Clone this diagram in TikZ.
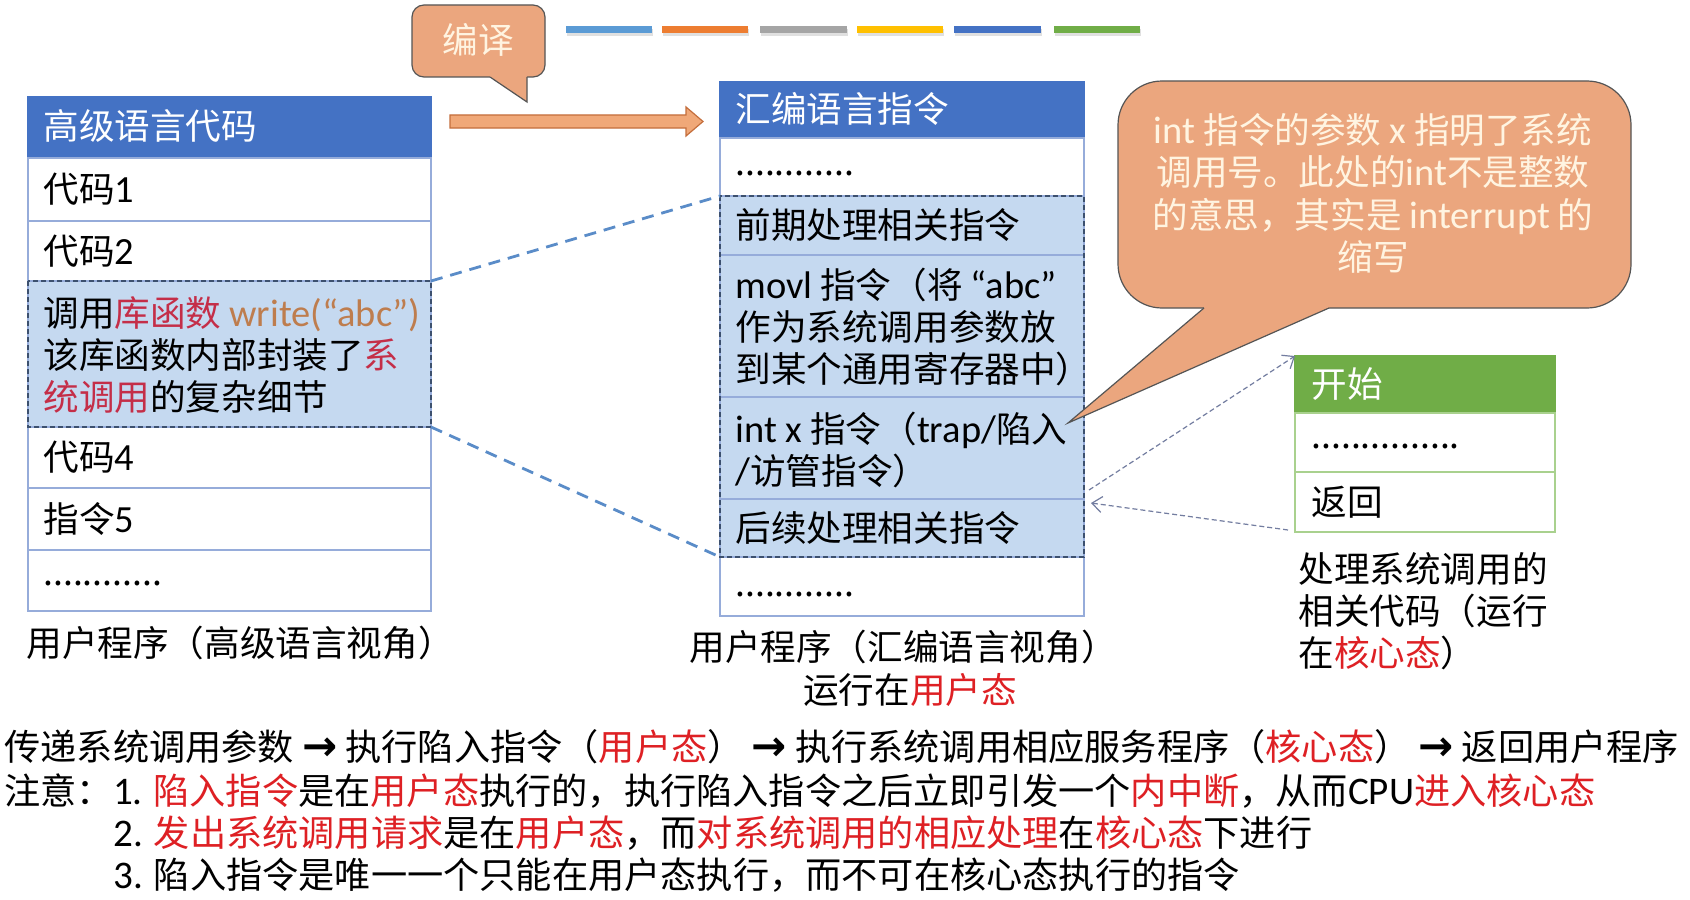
\documentclass[tikz,border=0pt]{standalone}
\usepackage{fontspec}
\setmainfont{Noto Sans CJK SC}
\newfontfamily\arrowfont{DejaVu Sans}
\newfontfamily\lat{Carlito}[Scale=1.08]
\usetikzlibrary{arrows.meta}
\definecolor{hdrblue}{RGB}{68,114,196}
\definecolor{tblline}{RGB}{150,172,218}
\definecolor{hlfill}{RGB}{197,217,240}
\definecolor{hlborderc}{RGB}{60,80,110}
\definecolor{linkblue}{RGB}{90,140,200}
\definecolor{calloutfill}{RGB}{235,166,126}
\definecolor{calloutdraw}{RGB}{85,85,85}
\definecolor{callouttext}{RGB}{255,244,225}
\definecolor{arrowfill}{RGB}{240,168,120}
\definecolor{arrowdraw}{RGB}{196,110,60}
\definecolor{grnhdr}{RGB}{112,173,71}
\definecolor{grnline}{RGB}{169,209,142}
\definecolor{dotarrow}{RGB}{115,125,160}
\definecolor{libred}{RGB}{196,46,72}
\definecolor{fnbrown}{RGB}{190,125,78}
\definecolor{hotred}{RGB}{222,32,36}
\definecolor{barA}{RGB}{91,155,213}
\definecolor{barB}{RGB}{237,125,49}
\definecolor{barC}{RGB}{165,165,165}
\definecolor{barD}{RGB}{255,192,0}
\definecolor{barE}{RGB}{68,114,196}
\definecolor{barF}{RGB}{112,173,71}
\newcommand\mlinesl[1]{\vtop{\baselineskip=21pt\lineskiplimit=-20pt\lineskip=0pt\halign{##\hfil\cr#1\crcr}}}
\newcommand\mlinesc[1]{\vtop{\baselineskip=21.3pt\lineskiplimit=-20pt\lineskip=0pt\halign{\hfil##\hfil\cr#1\crcr}}}
\newcommand\arr{{\arrowfont\bfseries\fontsize{21pt}{21pt}\selectfont →}}
\begin{document}
\begin{tikzpicture}[x=0.5pt,y=-0.5pt,
  cellbox/.style={draw=tblline, line width=0.75pt, inner sep=0pt, outer sep=0pt, fill=white},
  hdrbox/.style={cellbox, fill=hdrblue, draw=hdrblue},
  lbl/.style={anchor=base west, inner sep=0pt, font=\fontsize{17.8pt}{21pt}\selectfont},
  hdrlbl/.style={lbl, text=white},
  btxt/.style={anchor=base west, inner sep=0pt, font=\fontsize{18.1pt}{21pt}\selectfont},
  hlline/.style={draw=hlborderc, line width=0.9pt, dash pattern=on 2.5pt off 1.5pt},
  link/.style={draw=linkblue, line width=1.4pt, dash pattern=on 6pt off 4pt},
  dotarr/.style={draw=dotarrow, line width=0.6pt, dash pattern=on 2.5pt off 1.5pt, -{Straight Barb[length=5pt,width=8pt]}},
  bubble/.style={fill=calloutfill, draw=calloutdraw, line width=0.6pt},
  bubbleline/.style={draw=calloutdraw, line width=0.6pt}]
\useasboundingbox (0,0) rectangle (1690,899);
\fill[white] (0,0) rectangle (1690,899);

% colour bars
\foreach \a/\b/\c in {566/652/barA, 662/748/barB, 760/847/barC, 857/943/barD, 954/1041/barE, 1054/1140/barF}{
  \fill[black!12] (\a+1,29) rectangle (\b+1,36);
  \fill[\c] (\a,26) rectangle (\b,33);
}

% "编译" callout
\path[bubble, rounded corners=6pt] (412,5) rectangle (545,77);
\fill[calloutfill] (490,77) -- (527,102) -- (527,73) -- (490,73) -- cycle;
\draw[bubbleline] (490,77) -- (527,102) -- (527,77);
\node[anchor=base, inner sep=0pt, text=callouttext, font=\fontsize{17.8pt}{21pt}\selectfont] (tbianyi) at (478,54) {编译};

% orange block arrow
\path[fill=arrowfill, draw=arrowdraw, line width=0.6pt] (450,115) -- (686,115) -- (686,107) -- (703,121.5) -- (686,136) -- (686,128) -- (450,128) -- cycle;

% left table
\node[hdrbox, minimum width=201.5pt, minimum height=30.5pt] (lhdr) at (229.5,127.5) {};
\node[cellbox, minimum width=201.5pt, minimum height=31.5pt] (lr1) at (229.5,189.5) {};
\node[cellbox, minimum width=201.5pt, minimum height=30pt] (lr2) at (229.5,251) {};
\node[cellbox, fill=hlfill, minimum width=201.5pt, minimum height=73pt] (lhl) at (229.5,354) {};
\node[cellbox, minimum width=201.5pt, minimum height=30.5pt] (lr4) at (229.5,457.5) {};
\node[cellbox, minimum width=201.5pt, minimum height=31pt] (lr5) at (229.5,519) {};
\node[cellbox, minimum width=201.5pt, minimum height=30.5pt] (lr6) at (229.5,580.5) {};
\draw[hlline] (lhl.north west) rectangle (lhl.south east);

\node[hdrlbl] (tlhdr) at (43,140) {高级语言代码};
\node[lbl] (tl1) at (43,202) {代码{\lat 1}};
\node[lbl] (tl2) at (43,264) {代码{\lat 2}};
\node[lbl] (tlhl) at (43,326) {\mlinesl{调用\textcolor{libred}{库函数} \textcolor{fnbrown}{\lat write(“abc”)}\cr 该库函数内部封装了\textcolor{libred}{系}\cr \textcolor{libred}{统调用}的复杂细节}};
\node[lbl] (tl4) at (43,470) {代码{\lat 4}};
\node[lbl] (tl5) at (43,532) {指令{\lat 5}};
\node[lbl] (tl6) at (43,585) {............};
\node[lbl] (tlcap) at (26,656) {用户程序（高级语言视角）};

% middle table
\node[hdrbox, minimum width=182pt, minimum height=28pt] (mhdr) at (902,110) {};
\node[cellbox, minimum width=182pt, minimum height=29pt] (mr1) at (902,167) {};
\node[cellbox, fill=hlfill, minimum width=182pt, minimum height=29.5pt] (mr2) at (902,225.5) {};
\node[cellbox, fill=hlfill, minimum width=182pt, minimum height=71pt] (mr3) at (902,326) {};
\node[cellbox, fill=hlfill, minimum width=182pt, minimum height=51pt] (mr4) at (902,448) {};
\node[cellbox, fill=hlfill, minimum width=182pt, minimum height=29pt] (mr5) at (902,528) {};
\node[cellbox, minimum width=182pt, minimum height=29.5pt] (mr6) at (902,586.5) {};
\node[inner sep=0pt, outer sep=0pt, minimum width=182pt, minimum height=180.5pt] (mhl) at (902,376.5) {};
\draw[hlline] (mhl.north west) rectangle (mhl.south east);

\node[hdrlbl] (tmhdr) at (735,122) {汇编语言指令};
\node[lbl] (tm1) at (735,175) {............};
\node[lbl] (tm2) at (735,238) {前期处理相关指令};
\node[lbl] (tm3) at (735,298) {\mlinesl{{\lat movl} 指令（将 {\lat “abc”}\cr 作为系统调用参数放\cr 到某个通用寄存器中）}};
\node[lbl] (tm4) at (735,442) {\mlinesl{{\lat int x} 指令（{\lat trap/}陷入\cr {\lat /}访管指令）}};
\node[lbl] (tm5) at (735,541) {后续处理相关指令};
\node[lbl] (tm6) at (735,596) {............};
\node[lbl, anchor=base] (tmcap1) at (903,660) {用户程序（汇编语言视角）};
\node[lbl, anchor=base] (tmcap2) at (910,703) {运行在\textcolor{hotred}{用户态}};

% links
\draw[link] (lhl.north east) -- (mhl.north west);
\draw[link] (lhl.south east) -- (mhl.south west);

% big callout
\path[bubble, rounded corners=22pt] (1118,81) rectangle (1631,308);
\fill[calloutfill] (1204,308) -- (1068,423) -- (1329,308) -- (1329,302) -- (1204,302) -- cycle;
\draw[bubbleline] (1204,308) -- (1068,423) -- (1329,308);
\node[lbl, anchor=base, text=callouttext] (tcall) at (1373,143) {\mlinesc{{\lat int} 指令的参数 {\lat x} 指明了系统\cr 调用号。此处的{\lat int}不是整数\cr 的意思，其实是 {\lat interrupt} 的\cr 缩写}};

% green box
\node[cellbox, draw=grnhdr, fill=grnhdr, minimum width=130pt, minimum height=28.5pt] (ghdr) at (1425,384.5) {};
\node[cellbox, draw=grnline, minimum width=130pt, minimum height=29.5pt] (gr1) at (1425,442.5) {};
\node[cellbox, draw=grnline, minimum width=130pt, minimum height=30pt] (gr2) at (1425,502) {};
\node[hdrlbl] (tghdr) at (1311,397) {开始};
\node[lbl] (tg1) at (1311,448) {...............};
\node[lbl] (tg2) at (1311,515) {返回};
\node[lbl] (tgcap) at (1298,582) {\mlinesl{处理系统调用的\cr 相关代码（运行\cr 在\textcolor{hotred}{核心态}）}};

% dotted arrows
\coordinate (d1s) at (1089,490);
\coordinate (d2s) at (1288,530);
\coordinate (d2e) at (1091,503);
\draw[dotarr] (d1s) -- (ghdr.north west);
\draw[dotarr] (d2s) -- (d2e);

% bottom text
\node[btxt] (b1) at (4,760) {传递系统调用参数 \arr{} 执行陷入指令（\textcolor{hotred}{用户态}） \arr{} 执行系统调用相应服务程序（\textcolor{hotred}{核心态}） \arr{} 返回用户程序};
\node[btxt] (b2) at (4,804) {注意：{\lat 1.} \textcolor{hotred}{陷入指令}是在\textcolor{hotred}{用户态}执行的，执行陷入指令之后立即引发一个\textcolor{hotred}{内中断}，从而{\lat CPU}\textcolor{hotred}{进入核心态}};
\node[btxt] (b3) at (113,846) {{\lat 2.} \textcolor{hotred}{发出系统调用请求}是在\textcolor{hotred}{用户态}，而\textcolor{hotred}{对系统调用的相应处理}在\textcolor{hotred}{核心态}下进行};
\node[btxt] (b4) at (113,888) {{\lat 3.} 陷入指令是唯一一个只能在用户态执行，而不可在核心态执行的指令};
\end{tikzpicture}
\end{document}
